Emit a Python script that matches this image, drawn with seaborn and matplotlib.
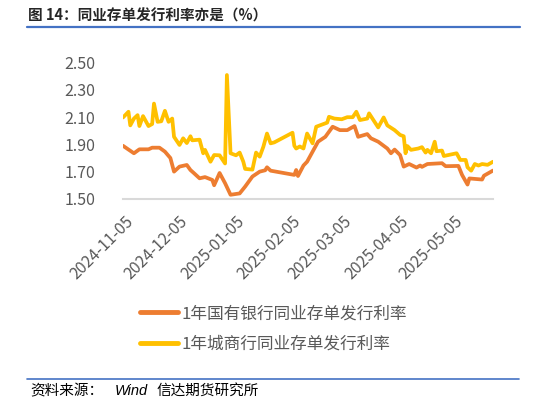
import pandas as pd
import numpy as np
import seaborn as sns
import matplotlib.pyplot as plt
import matplotlib.dates as mdates
from matplotlib.lines import Line2D

# 1年国有银行同业存单发行利率
state_dates = ["2024-11-04", "2024-11-10", "2024-11-13", "2024-11-18", "2024-11-20", "2024-11-24",
               "2024-11-27", "2024-11-30", "2024-12-02", "2024-12-05", "2024-12-09", "2024-12-11",
               "2024-12-13", "2024-12-16", "2024-12-19", "2024-12-23", "2024-12-24", "2024-12-27",
               "2024-12-30", "2025-01-02", "2025-01-07", "2025-01-10", "2025-01-14", "2025-01-18",
               "2025-01-21", "2025-01-22", "2025-01-24", "2025-02-06", "2025-02-07", "2025-02-08",
               "2025-02-11", "2025-02-13", "2025-02-19", "2025-02-23", "2025-02-27", "2025-03-03",
               "2025-03-07", "2025-03-11", "2025-03-13", "2025-03-18", "2025-03-20", "2025-03-24",
               "2025-03-29", "2025-03-31", "2025-04-02", "2025-04-05", "2025-04-07", "2025-04-10",
               "2025-04-14", "2025-04-16", "2025-04-17", "2025-04-20", "2025-04-28", "2025-04-30",
               "2025-05-07", "2025-05-09", "2025-05-12", "2025-05-13", "2025-05-20", "2025-05-21",
               "2025-05-26"]
state_rate = [1.89, 1.835, 1.864, 1.864, 1.876, 1.876,
              1.847, 1.80, 1.70, 1.737, 1.749, 1.712,
              1.688, 1.651, 1.66, 1.639, 1.60, 1.69,
              1.615, 1.53, 1.54, 1.59, 1.664, 1.70,
              1.71, 1.732, 1.707, 1.676, 1.712, 1.668,
              1.745, 1.773, 1.92, 1.956, 2.03, 2.005,
              2.005, 2.035, 1.956, 1.976, 1.945, 1.92,
              1.87, 1.835, 1.862, 1.822, 1.737, 1.756,
              1.73, 1.745, 1.735, 1.756, 1.762, 1.74,
              1.742, 1.676, 1.605, 1.65, 1.642, 1.67,
              1.708]

# 1年城商行同业存单发行利率
city_dates = ["2024-11-04", "2024-11-07", "2024-11-08", "2024-11-10", "2024-11-12", "2024-11-13",
              "2024-11-15", "2024-11-18", "2024-11-20", "2024-11-21", "2024-11-23", "2024-11-25",
              "2024-11-27", "2024-11-29", "2024-12-01", "2024-12-02", "2024-12-05", "2024-12-07",
              "2024-12-09", "2024-12-11", "2024-12-12", "2024-12-16", "2024-12-18", "2024-12-19",
              "2024-12-22", "2024-12-24", "2024-12-27", "2024-12-30", "2024-12-31", "2025-01-02",
              "2025-01-05", "2025-01-07", "2025-01-09", "2025-01-10", "2025-01-14", "2025-01-16",
              "2025-01-18", "2025-01-20", "2025-01-22", "2025-01-24", "2025-01-26", "2025-02-05",
              "2025-02-06", "2025-02-07", "2025-02-09", "2025-02-11", "2025-02-13", "2025-02-16",
              "2025-02-18", "2025-02-22", "2025-02-24", "2025-02-25", "2025-02-28", "2025-03-04",
              "2025-03-07", "2025-03-10", "2025-03-12", "2025-03-14", "2025-03-18", "2025-03-19",
              "2025-03-22", "2025-03-24", "2025-03-27", "2025-03-29", "2025-04-02", "2025-04-05",
              "2025-04-07", "2025-04-08", "2025-04-09", "2025-04-11", "2025-04-15", "2025-04-17",
              "2025-04-19", "2025-04-20", "2025-04-22", "2025-04-24", "2025-04-25", "2025-04-28",
              "2025-04-29", "2025-05-06", "2025-05-08", "2025-05-11", "2025-05-12", "2025-05-14",
              "2025-05-16", "2025-05-18", "2025-05-20", "2025-05-23", "2025-05-26"]
city_rate = [2.098, 2.14, 2.04, 2.09, 2.115, 2.035,
             2.108, 2.035, 2.05, 2.20, 2.066, 2.07,
             2.147, 2.066, 2.09, 1.956, 1.896, 1.945,
             1.91, 1.96, 1.93, 1.935, 1.835, 1.86,
             1.773, 1.822, 1.82, 1.76, 2.41, 1.835,
             1.82, 1.84, 1.773, 1.72, 1.715, 1.84,
             1.81, 1.883, 1.98, 1.908, 1.915, 1.986,
             1.89, 1.87, 1.885, 1.87, 1.98, 1.908,
             2.03, 2.05, 2.06, 2.103, 2.09, 2.085,
             2.10, 2.10, 2.14, 2.079, 2.09, 2.128,
             2.066, 2.025, 2.098, 2.04, 2.005, 1.97,
             1.96, 1.835, 1.888, 1.86, 1.87, 1.88,
             1.84, 1.86, 1.835, 1.92, 1.85, 1.855,
             1.815, 1.835, 1.786, 1.786, 1.732, 1.707,
             1.756, 1.745, 1.756, 1.75, 1.773]

series_names = ["1年国有银行同业存单发行利率", "1年城商行同业存单发行利率"]
series_colors = ["#ED7D31", "#FFC000"]
y_ticks = [1.50, 1.70, 1.90, 2.10, 2.30, 2.50]

df = pd.concat([
    pd.DataFrame({"date": pd.to_datetime(state_dates), "rate": state_rate, "series": series_names[0]}),
    pd.DataFrame({"date": pd.to_datetime(city_dates), "rate": city_rate, "series": series_names[1]}),
])

sns.set_theme(style="white")
plt.rcParams["font.family"] = ["Noto Sans CJK SC", "DejaVu Sans"]
plt.rcParams["axes.unicode_minus"] = False

fig = plt.figure(figsize=(5.43, 4.05), dpi=100)
ax = fig.add_axes([0.2265, 0.509, 0.6815, 0.336])

sns.lineplot(data=df, x="date", y="rate", hue="series", hue_order=series_names,
             palette=series_colors, estimator=None, linewidth=2.7, ax=ax, legend=False)

ax.set_ylim(1.5, 2.5)
ax.set_xlim(pd.Timestamp("2024-11-04"), pd.Timestamp("2025-05-26"))
ax.set_yticks(y_ticks)
ax.set_yticklabels([f"{v:.2f}" for v in y_ticks], fontsize=11.5, color="#595959")
ax.xaxis.set_major_locator(mdates.MonthLocator(bymonthday=5))
ax.xaxis.set_major_formatter(mdates.DateFormatter("%Y-%m-%d"))
for lab in ax.get_xticklabels():
    lab.set_rotation(45)
    lab.set_ha("right")
    lab.set_rotation_mode("anchor")
    lab.set_fontsize(11.5)
    lab.set_color("#595959")
ax.tick_params(axis="y", length=0, pad=20)
ax.tick_params(axis="x", length=0, pad=10)
ax.set_xlabel("")
ax.set_ylabel("")
for side in ["top", "right", "left"]:
    ax.spines[side].set_visible(False)
ax.spines["bottom"].set_color("#d9d9d9")
ax.spines["bottom"].set_linewidth(1.5)

handles = [Line2D([], [], color=c, linewidth=3.5) for c in series_colors]
fig.legend(handles, series_names, loc="center", bbox_to_anchor=(0.503, 0.188),
           frameon=False, fontsize=12, handlelength=2.3, handletextpad=0.2,
           labelspacing=0.8, labelcolor="#595959")

# title and source
fig.text(0.052, 0.962, "图 14：同业存单发行利率亦是（%）", fontsize=10.5,
         fontweight="bold", color="#262626", va="center", ha="left")
fig.add_artist(Line2D([0.05, 0.958], [0.933, 0.933], color="#4472C4", linewidth=1.6))
fig.add_artist(Line2D([0.05, 0.955], [0.064, 0.064], color="#4472C4", linewidth=1.2))
fig.text(0.055, 0.035, "资料来源：", fontsize=10.5, color="black", va="center", ha="left")
fig.text(0.212, 0.035, "Wind", fontsize=10.5, style="italic", family=["Liberation Sans"],
         color="black", va="center", ha="left")
fig.text(0.289, 0.035, "信达期货研究所", fontsize=10.5, color="black", va="center", ha="left")

fig.savefig("out.png", dpi=100)
